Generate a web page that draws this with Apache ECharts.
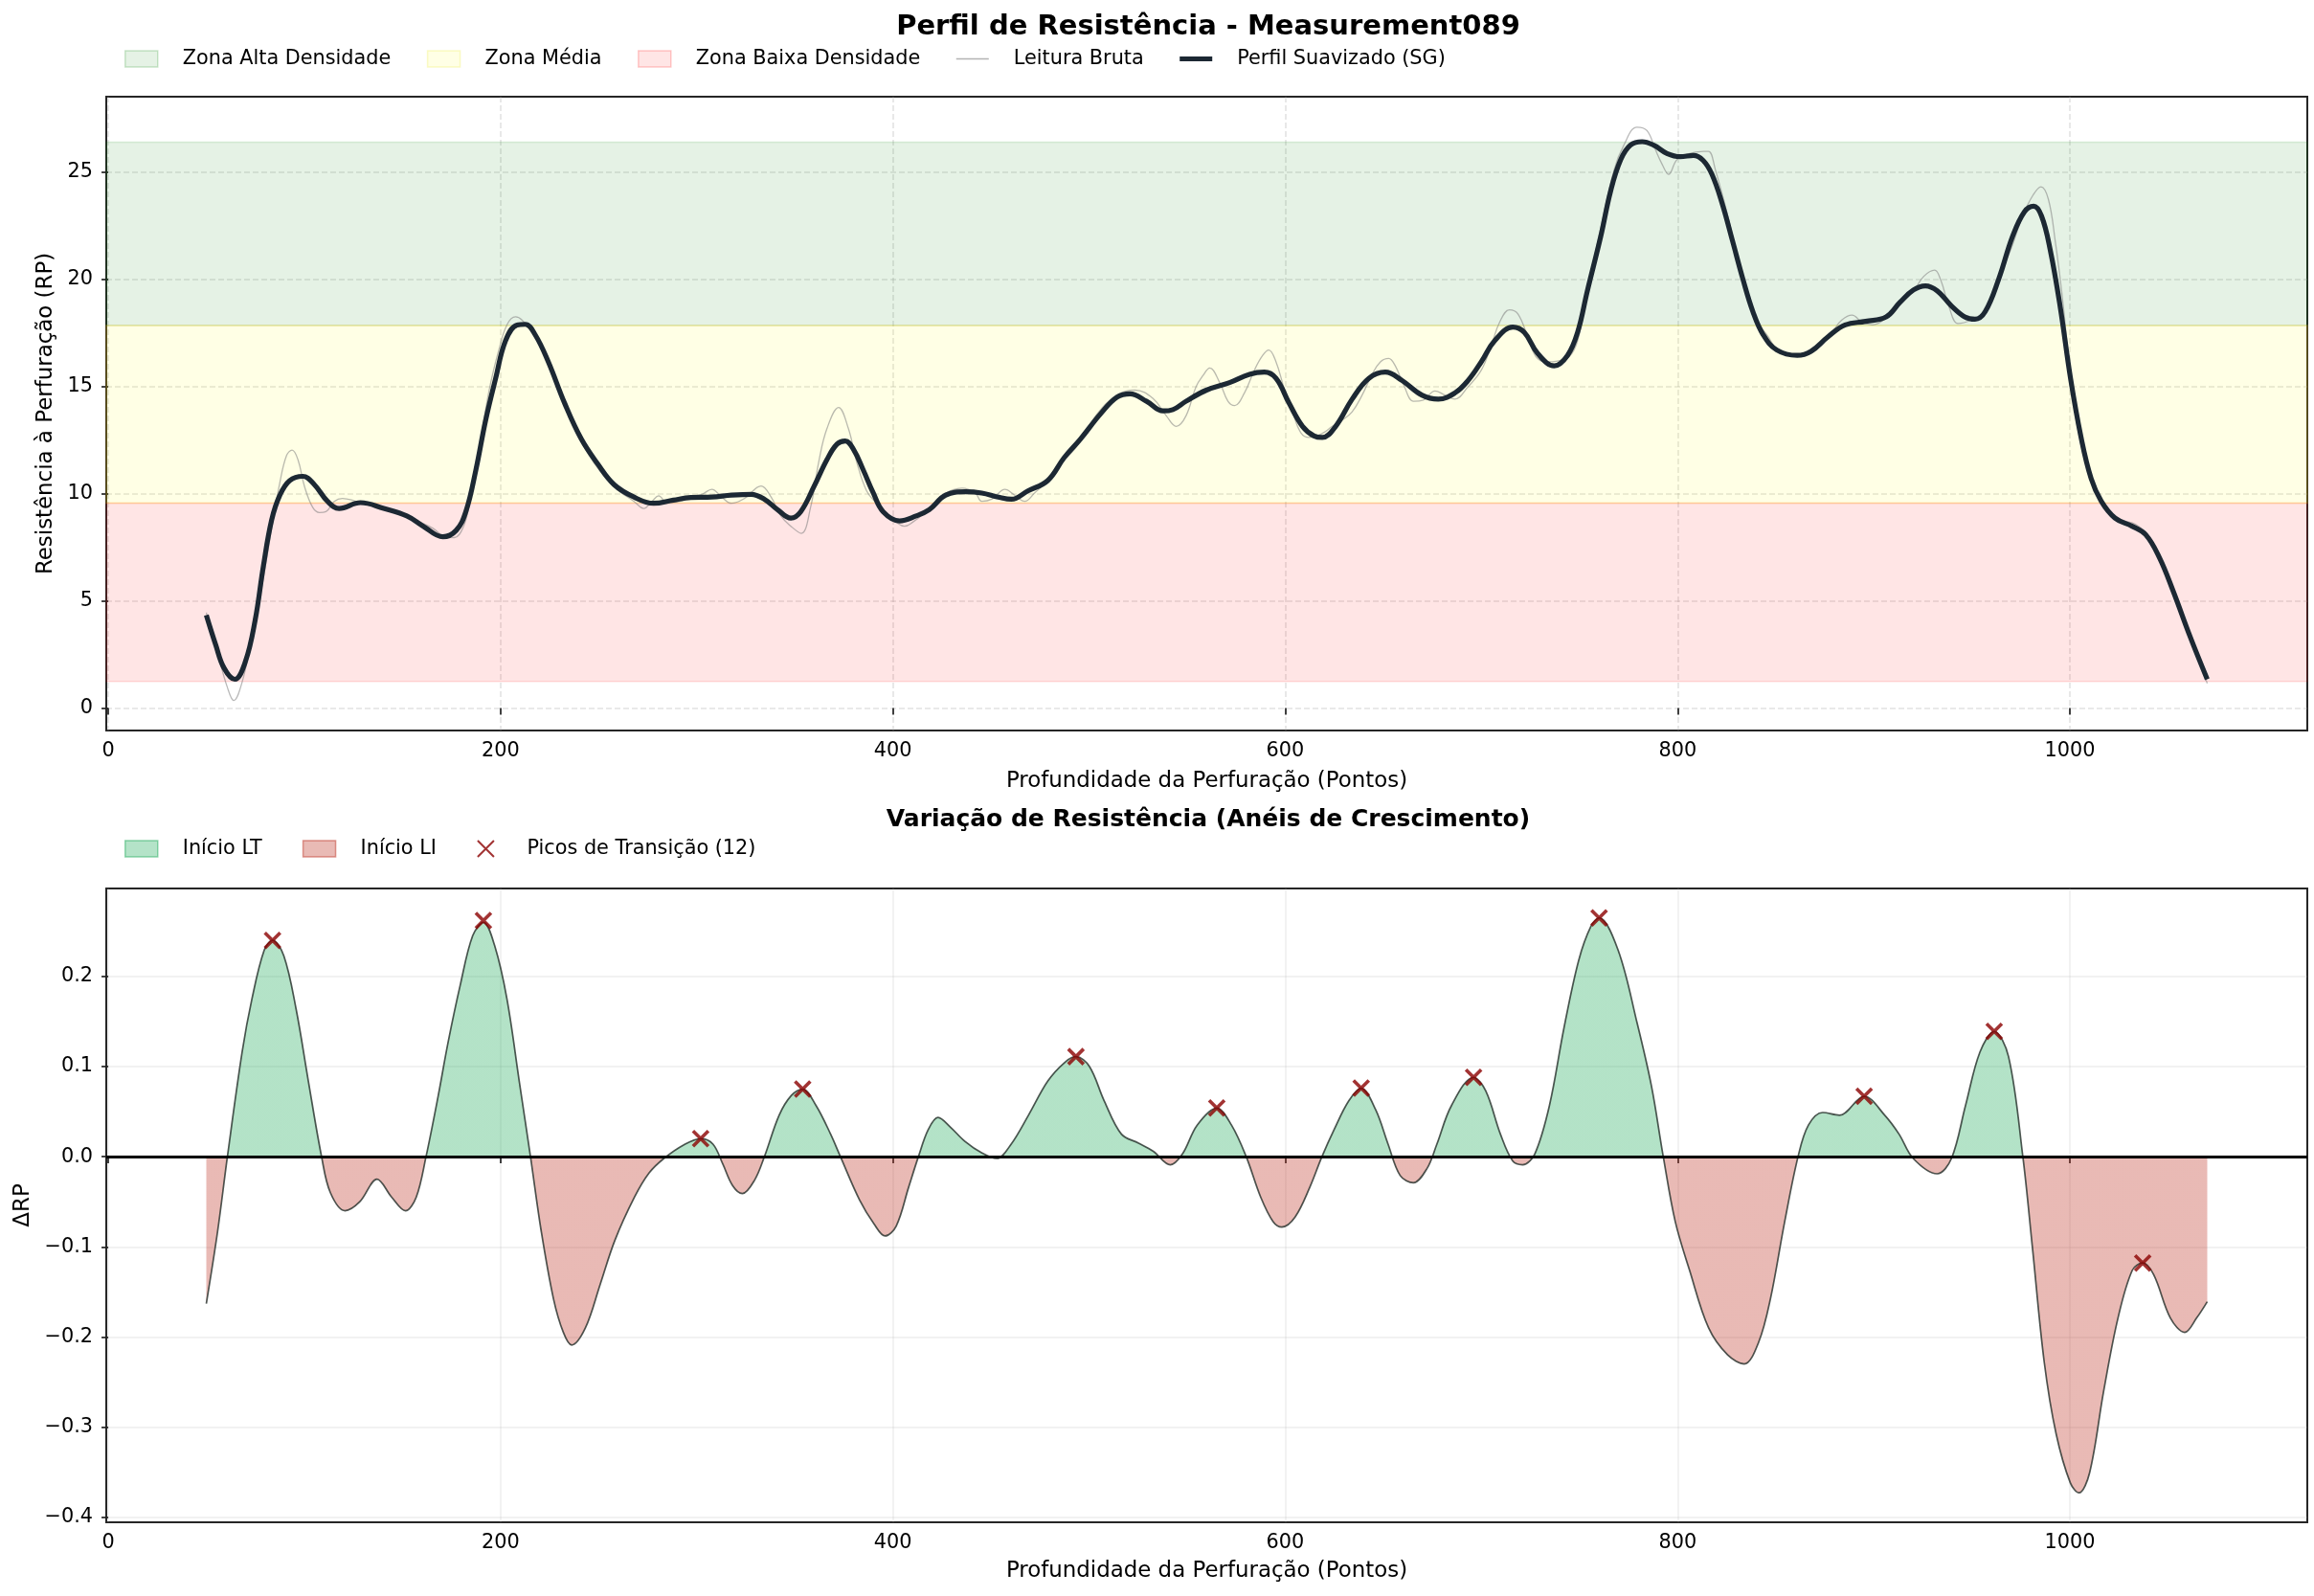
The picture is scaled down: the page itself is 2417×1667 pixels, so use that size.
<!DOCTYPE html>
<html><head><meta charset="utf-8">
<script src="https://cdn.jsdelivr.net/npm/echarts@6/dist/echarts.min.js"></script>
<style>html,body{margin:0;padding:0;background:#fff}#c{width:2417px;height:1667px}</style>
</head><body><div id="c"></div>
<script>
// ---- Data ----
const xTicks = [0, 200, 400, 600, 800, 1000];
const yTicksTop = [0, 5, 10, 15, 20, 25];
const yTicksBottom = [-0.4, -0.3, -0.2, -0.1, 0, 0.1, 0.2];
const zoneBounds = [1.24, 9.56, 17.85, 26.4]; // baixa / média / alta

const smoothX = [50,54.8,59,64.5,69.9,74.9,79.1,83.3,87.5,92.5,99.2,105.1,111.8,117.7,128.6,140.4,152.2,160.6,170.6,177.3,182.3,187.4,192.4,197.5,202.5,208.4,212.6,217.6,224.3,232.7,241.1,249.5,257.9,268,278,288.1,297,307.7,317.7,327.8,334.5,341.2,348,353,359.7,366.4,371.5,375.7,379.9,384.9,390,395,403.4,411.8,418.5,426.9,436.9,445.3,453.7,460.4,468.8,478.9,487.3,495.7,505.8,514.2,520.9,529.3,537.7,542.7,549.4,559.8,571.6,581.8,589.4,595.3,602,608.8,614.7,618.9,625.7,634.1,642.6,651,659.5,669.6,678,686.5,693.2,700,706.7,716,721.9,728.7,737.1,743.9,749,754,760.8,765.9,771,776,781.9,787.8,794.6,801.3,808.1,813,817.5,822.7,828,833.2,838.4,843.6,850.6,861,868,876.7,885.4,895.9,906.3,913.3,920.2,926.3,932.4,939.4,946.4,951.6,956.8,963.8,970.7,976.8,981.5,985.5,989.9,995.1,1000.3,1005.6,1010.8,1016,1023,1031.7,1038.6,1045.6,1052.6,1061.3,1070];
const smoothY = [4.33,2.94,1.87,1.34,2.16,4.1,6.63,8.77,9.93,10.61,10.81,10.42,9.64,9.31,9.58,9.31,8.96,8.48,7.99,8.28,9.16,11.1,13.43,15.38,17.13,17.87,17.9,17.42,16.16,14.21,12.56,11.39,10.42,9.84,9.55,9.7,9.82,9.84,9.93,9.97,9.74,9.25,8.86,9.16,10.32,11.59,12.31,12.46,12.07,11.1,10.03,9.16,8.73,8.96,9.25,9.93,10.09,10.03,9.84,9.74,10.13,10.61,11.68,12.56,13.72,14.5,14.66,14.31,13.86,13.92,14.31,14.83,15.18,15.57,15.67,15.38,14.21,13.14,12.69,12.62,13.14,14.41,15.38,15.67,15.28,14.6,14.41,14.7,15.28,16.16,17.13,17.77,17.52,16.54,15.96,16.45,17.52,19.46,21.99,24.13,25.58,26.26,26.42,26.26,25.87,25.72,25.78,25.55,24.9,23.54,21.79,20.04,18.49,17.42,16.7,16.45,16.64,17.32,17.87,18.04,18.25,18.92,19.5,19.69,19.46,18.78,18.25,18.14,18.49,20.04,21.99,23.15,23.41,22.96,21.4,18.68,15.38,12.66,10.71,9.64,8.86,8.48,8.09,7.02,5.46,3.32,1.34];

const rawX = [50,56.4,60.6,64,68.2,72.4,78.3,83.3,87.5,90.9,93.7,96.7,100.1,104.3,107.7,111,115.2,119.4,124.4,128.6,135.4,143.8,152.2,158.9,165.6,171.5,176.5,180.7,184,189.1,194.1,199.2,203.4,207.6,210.9,221,232.8,244.5,258,268,273,277.2,280.6,284.8,291.5,296.5,302.6,307.7,312.7,317.7,324.4,332.8,337.9,342.9,348,353.3,358,362.2,366.4,372.3,377.3,381.5,386.6,391.6,396.6,401.7,405.9,410.1,416.8,425.2,435.3,442,445.3,450.4,457.1,462.1,467.2,472.2,478.9,483.9,490.7,495.7,504.1,514.2,523.4,532.6,539.4,544.4,549.4,554.5,558,561.5,566.6,570.8,574.2,579.2,584.3,588.5,591.6,595.3,599.5,603.7,607.9,612.2,618.9,624,629.1,634.1,639.2,644.3,648.5,652.7,656.1,660.3,665.4,670.4,676.3,681.4,686.5,693.2,700,705.1,709.3,714.3,718.6,723.6,727.8,732.9,738.8,744.7,749,754,760.8,767.6,772.6,779.3,784.4,788.6,792,795.4,799.6,804.7,813.2,815.8,819.3,824.5,829.7,834.9,840.2,846.2,849.7,855.8,862.8,869.8,878.5,883.7,888.9,894.1,899.4,906.3,913.3,920.2,925.5,931,934.2,938.5,942.9,949.8,956.8,963.8,970.7,975.9,981.2,985.2,989,992.5,996,999.5,1002.9,1007.3,1012.5,1019.5,1026.4,1033.4,1040.4,1047.3,1056,1063,1070];
const rawY = [4.45,2.35,1.0,0.35,1.19,2.94,5.66,8.38,10.52,11.78,12.03,11.59,10.32,9.35,9.12,9.16,9.64,9.78,9.7,9.55,9.45,9.16,8.96,8.67,8.38,7.99,7.95,8.38,9.45,12.07,14.79,16.74,17.9,18.25,18.1,16.93,14.2,11.88,10.32,9.64,9.31,9.64,9.9,9.58,9.64,9.84,9.97,10.2,9.84,9.55,9.78,10.36,9.84,8.96,8.48,8.15,9.35,11.49,13.04,14.02,13.04,11.49,10.13,9.55,9.06,8.67,8.48,8.67,9.16,9.93,10.26,10.03,9.64,9.74,10.2,9.93,9.64,10.03,10.61,11.29,11.88,12.46,13.72,14.6,14.83,14.44,13.63,13.14,13.63,14.99,15.5,15.86,15.18,14.31,14.11,14.7,15.77,16.45,16.7,16.15,14.89,13.82,12.85,12.62,12.81,13.14,13.43,13.82,14.6,15.57,16.15,16.31,15.96,15.09,14.31,14.37,14.79,14.6,14.41,14.99,15.77,16.93,18,18.58,18.39,17.32,16.39,16.15,16.19,16.39,17.13,19.46,22.38,25.1,26.26,27.1,26.94,26.07,25.39,24.9,25.58,25.84,25.97,25.97,25.1,23.35,21.4,19.65,18.1,17.32,16.84,16.49,16.45,16.78,17.52,18.1,18.33,18.0,17.87,18.2,18.88,19.46,20.14,20.43,19.95,18.68,17.94,18.1,18.49,20.04,21.6,22.96,23.93,24.32,23.74,21.79,19.27,16.16,13.63,11.68,10.32,9.16,8.77,8.57,7.99,6.63,4.49,2.94,1.15];

const dX = [50,55.75,60.75,68.25,73.25,79.5,83.75,89.5,95.75,102,108.75,113.25,120.75,128.25,137,144.5,151.5,157,162,168.25,173.25,179.5,185.75,191.25,197,203.25,209.5,215.25,220.75,227,232,236.25,243.25,250.75,258.25,268.25,275.75,283.25,293.25,302,308.25,313.25,318.25,323.25,329.5,334.5,342,348.25,354,360.75,368.25,373.25,383,390.5,396,401.7,408,413,418,423,429.2,436.7,445.4,452.9,460.3,469.1,479,487.8,493.3,500.2,507.7,516.5,525.2,532.7,541.4,547.6,555.1,565.1,572.6,580.1,587.5,593.8,598.3,605,612.5,618.7,624.9,632.4,638.7,646.1,652.4,658.6,665.3,672.3,677.3,684.8,696,702.2,709.7,716,721,727.2,734.7,742.1,749.6,755.9,760,769.7,779.4,786.7,792.7,798.8,806.1,815.8,825.5,834,841.3,847.3,854.6,861.4,866.7,874,882.5,895.1,905.6,912.9,920.1,932.3,939.6,946.8,954.1,961.4,968.7,976,980.8,986.9,993,1000.2,1004.6,1010,1017.2,1024.5,1031.8,1037.1,1042.7,1051.2,1058.5,1064.6,1070];
const dY = [-0.163,-0.083,0,0.116,0.175,0.229,0.240,0.223,0.164,0.084,0,-0.04,-0.060,-0.050,-0.025,-0.045,-0.060,-0.045,0,0.068,0.127,0.191,0.245,0.260,0.234,0.175,0.084,0,-0.083,-0.158,-0.195,-0.209,-0.190,-0.142,-0.093,-0.045,-0.018,-0.002,0.013,0.020,0.014,-0.008,-0.032,-0.041,-0.026,0,0.046,0.068,0.075,0.057,0.025,0,-0.048,-0.075,-0.088,-0.077,-0.034,0,0.030,0.0435,0.033,0.017,0.004,-0.002,0.014,0.046,0.084,0.105,0.111,0.100,0.062,0.025,0.015,0.006,-0.009,0.003,0.035,0.054,0.035,0,-0.045,-0.072,-0.078,-0.067,-0.034,0,0.030,0.062,0.076,0.052,0.014,-0.021,-0.029,-0.013,0.014,0.057,0.088,0.073,0.025,-0.005,-0.009,0.003,0.057,0.143,0.218,0.256,0.265,0.229,0.148,0.078,0,-0.072,-0.126,-0.190,-0.220,-0.230,-0.206,-0.158,-0.072,0,0.035,0.049,0.046,0.067,0.046,0.025,-0.002,-0.019,-0.002,0.057,0.116,0.139,0.111,0,-0.099,-0.228,-0.308,-0.362,-0.373,-0.351,-0.260,-0.179,-0.126,-0.118,-0.131,-0.179,-0.195,-0.179,-0.161];

const peakX = [83.75,191.25,302,354,493.3,565.1,638.7,696,760,895.1,961.4,1037.1];
const peakY = [0.240,0.262,0.020,0.075,0.111,0.054,0.076,0.088,0.265,0.067,0.139,-0.118];

// ---- Chart ----
const FONT = 'DejaVu Sans';
const pairs = (xs, ys) => xs.map((x, i) => [x, ys[i]]);
const chart = echarts.init(document.getElementById('c'), null, {renderer: 'canvas'});

const tickFont = {fontSize: 20.8, color: '#000', fontFamily: FONT};
const nameFont = {fontSize: 22.9, color: '#000', fontFamily: FONT};
const legendText = {fontSize: 20.8, color: '#000', fontFamily: FONT, padding: [0, 0, 0, 21]};

function xAxisCfg(gi, dashed, name, nameGap) {
  return {
    gridIndex: gi, type: 'value', min: -1, max: 1121,
    axisLine: {show: false},
    axisTick: {show: true, length: 7, lineStyle: {color: '#222', width: 1.7}, customValues: xTicks},
    axisLabel: Object.assign({customValues: xTicks, margin: 11, formatter: v => String(Math.round(v))}, tickFont),
    splitLine: {show: true, lineStyle: dashed ? {color: 'rgba(160,160,160,0.3)', type: [6, 3], width: 1.6} : {color: 'rgba(170,170,170,0.2)', width: 1.6}},
    name: name, nameLocation: 'middle', nameGap: nameGap, nameTextStyle: nameFont
  };
}

const option = {
  backgroundColor: '#fff',
  animation: false,
  graphic: [
    {type: 'text', x: 1262, y: 28, style: {text: 'Perfil de Resistência - Measurement089', font: 'bold 29px "DejaVu Sans"', fill: '#000', align: 'center', verticalAlign: 'middle'}},
    {type: 'text', x: 1262, y: 856, style: {text: 'Variação de Resistência (Anéis de Crescimento)', font: 'bold 25px "DejaVu Sans"', fill: '#000', align: 'center', verticalAlign: 'middle'}}
  ],
  grid: [
    {left: 111, top: 101, width: 2299, height: 662, show: true, borderColor: '#262626', borderWidth: 2, backgroundColor: 'transparent', containLabel: false, outerBoundsMode: 'none'},
    {left: 111, top: 928, width: 2299, height: 662, show: true, borderColor: '#262626', borderWidth: 2, backgroundColor: 'transparent', containLabel: false, outerBoundsMode: 'none'}
  ],
  legend: [
    {
      left: 130, top: 51, padding: 0, itemWidth: 34, itemHeight: 17, itemGap: 37.5, selectedMode: false,
      textStyle: legendText,
      data: [
        {name: 'Zona Alta Densidade', icon: 'rect', itemStyle: {color: 'rgba(0,128,0,0.1)', borderColor: 'rgba(0,128,0,0.2)', borderWidth: 1.5}},
        {name: 'Zona Média', icon: 'rect', itemStyle: {color: 'rgba(255,255,0,0.1)', borderColor: 'rgba(230,230,0,0.2)', borderWidth: 1.5}},
        {name: 'Zona Baixa Densidade', icon: 'rect', itemStyle: {color: 'rgba(255,0,0,0.1)', borderColor: 'rgba(255,0,0,0.2)', borderWidth: 1.5}},
        {name: 'Leitura Bruta', icon: 'path://M0,0h34v1.4h-34z', itemStyle: {color: 'rgba(128,128,128,0.6)', borderWidth: 0}},
        {name: 'Perfil Suavizado (SG)', icon: 'path://M0,0h34v5.2h-34z', itemStyle: {color: '#1c2833', borderWidth: 0}}
      ]
    },
    {
      left: 130, top: 876, padding: 0, itemWidth: 34, itemHeight: 17, itemGap: 42, selectedMode: false,
      textStyle: legendText,
      data: [
        {name: 'Início LT', icon: 'rect', itemStyle: {color: 'rgba(39,174,96,0.35)', borderColor: 'rgba(39,174,96,0.5)', borderWidth: 1.5}},
        {name: 'Início LI', icon: 'rect', itemStyle: {color: 'rgba(192,57,43,0.35)', borderColor: 'rgba(192,57,43,0.5)', borderWidth: 1.5}},
        {name: 'Picos de Transição (12)'}
      ]
    }
  ],
  xAxis: [
    xAxisCfg(0, true, 'Profundidade da Perfuração (Pontos)', 42),
    xAxisCfg(1, false, 'Profundidade da Perfuração (Pontos)', 40)
  ],
  yAxis: [
    {
      gridIndex: 0, type: 'value', min: -1.05, max: 28.52,
      axisLine: {show: false},
      axisTick: {show: true, length: 7, lineStyle: {color: '#222', width: 1.7}, customValues: yTicksTop},
      axisLabel: Object.assign({customValues: yTicksTop, margin: 14}, tickFont),
      splitLine: {show: true, lineStyle: {color: 'rgba(160,160,160,0.3)', type: [6, 3], width: 1.6}},
      name: 'Resistência à Perfuração (RP)', nameLocation: 'middle', nameGap: 50, nameTextStyle: nameFont
    },
    {
      gridIndex: 1, type: 'value', min: -0.4057, max: 0.2976,
      axisLine: {show: false},
      axisTick: {show: true, length: 7, lineStyle: {color: '#222', width: 1.7}, customValues: yTicksBottom},
      axisLabel: Object.assign({customValues: yTicksBottom, margin: 14, formatter: v => (v < -1e-9 ? '\u2212' : '') + Math.abs(v).toFixed(1)}, tickFont),
      splitLine: {show: true, lineStyle: {color: 'rgba(170,170,170,0.2)', width: 1.6}},
      name: 'ΔRP', nameLocation: 'middle', nameGap: 70, nameTextStyle: nameFont
    }
  ],
  visualMap: [{
    type: 'piecewise', show: false, seriesIndex: 5, dimension: 1,
    pieces: [{gte: -1, lt: 0, color: '#c0392b'}, {gte: 0, lte: 1, color: '#27ae60'}],
    outOfRange: {color: '#999'}
  }],
  series: [
    {type: 'line', name: 'Zona Alta Densidade', xAxisIndex: 0, yAxisIndex: 0, data: [], color: 'rgba(0,128,0,0.1)',
      markArea: {silent: true, itemStyle: {color: 'rgba(0,128,0,0.1)', borderColor: 'rgba(0,128,0,0.13)', borderWidth: 1.5}, data: [[{yAxis: zoneBounds[2]}, {yAxis: zoneBounds[3]}]]}},
    {type: 'line', name: 'Zona Média', xAxisIndex: 0, yAxisIndex: 0, data: [], color: 'rgba(255,255,0,0.1)',
      markArea: {silent: true, itemStyle: {color: 'rgba(255,255,0,0.1)', borderColor: 'rgba(255,200,0,0.25)', borderWidth: 1.5}, data: [[{yAxis: zoneBounds[1]}, {yAxis: zoneBounds[2]}]]}},
    {type: 'line', name: 'Zona Baixa Densidade', xAxisIndex: 0, yAxisIndex: 0, data: [], color: 'rgba(255,0,0,0.1)',
      markArea: {silent: true, itemStyle: {color: 'rgba(255,0,0,0.1)', borderColor: 'rgba(255,0,0,0.12)', borderWidth: 1.5}, data: [[{yAxis: zoneBounds[0]}, {yAxis: zoneBounds[1]}]]}},
    {type: 'line', name: 'Leitura Bruta', xAxisIndex: 0, yAxisIndex: 0, data: pairs(rawX, rawY), smooth: 0.4, symbol: 'none',
      color: 'rgba(128,128,128,0.55)', lineStyle: {color: 'rgba(128,128,128,0.55)', width: 1.3}, z: 3},
    {type: 'line', name: 'Perfil Suavizado (SG)', xAxisIndex: 0, yAxisIndex: 0, data: pairs(smoothX, smoothY), smooth: 0.4, symbol: 'none',
      color: '#1c2833', lineStyle: {color: '#1c2833', width: 5.2}, z: 4},
    {type: 'line', name: 'ΔRP', xAxisIndex: 1, yAxisIndex: 1, data: pairs(dX, dY), smooth: 0.35, symbol: 'none',
      lineStyle: {color: 'rgba(35,45,40,0.8)', width: 1.7}, areaStyle: {opacity: 0.35}, z: 3,
      markLine: {silent: true, symbol: 'none', label: {show: false}, lineStyle: {color: '#000', width: 3, type: 'solid'}, data: [{yAxis: 0}], z: 5}},
    {type: 'line', name: 'Início LT', xAxisIndex: 1, yAxisIndex: 1, data: [], color: 'rgba(39,174,96,0.35)'},
    {type: 'line', name: 'Início LI', xAxisIndex: 1, yAxisIndex: 1, data: [], color: 'rgba(192,57,43,0.35)'},
    {type: 'scatter', name: 'Picos de Transição (12)', xAxisIndex: 1, yAxisIndex: 1, data: pairs(peakX, peakY),
      symbol: 'path://M0,0L10,10M10,0L0,10', symbolSize: 16, z: 6,
      itemStyle: {color: 'rgba(0,0,0,0)', borderColor: '#8b0000', borderWidth: 3.6}}
  ]
};
chart.setOption(option);
</script>
</body></html>
